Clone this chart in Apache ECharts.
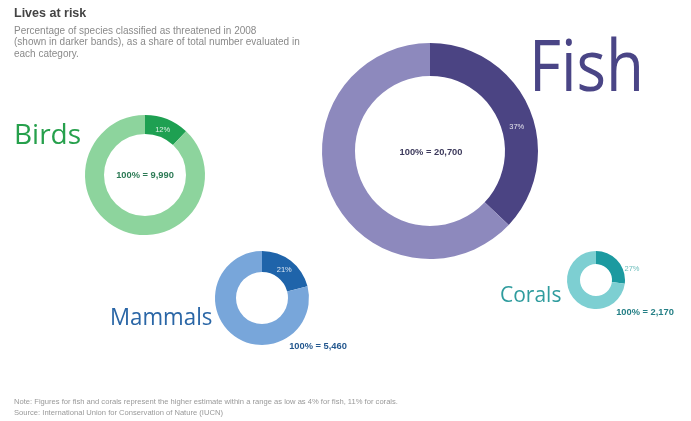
<!DOCTYPE html>
<html><head><meta charset="utf-8">
<script src="https://cdn.jsdelivr.net/npm/echarts@6/dist/echarts.min.js"></script>
<style>html,body{margin:0;padding:0;background:#fff;}#c{width:691px;height:421px;}</style>
</head><body><div id="c"></div>
<script>
const categories = ['Birds', 'Fish', 'Mammals', 'Corals'];
const threatenedPct = [12, 37, 21, 27];
const totalsEvaluated = ['9,990', '20,700', '5,460', '2,170'];

const darkColors = ['#1ea052', '#4b4483', '#1f64aa', '#1c9aa0'];
const lightColors = ['#8dd49d', '#8d89bd', '#78a6da', '#7dcfd2'];
const nameColors = ['#26a04c', '#4a4586', '#2a66a6', '#2f9c9e'];
const centers = [[145, 175], [430, 151], [262, 298], [596, 280]];
const radii = [[41, 60], [75, 108], [26, 47], [16, 29]];
const pctOffsets = [[-2, 5], [0, 13], [-2, 3], [0, 0]];

const series = categories.map((c, i) => ({
  type: 'pie',
  name: c,
  center: centers[i],
  radius: radii[i],
  startAngle: 90,
  clockwise: true,
  silent: true,
  animation: false,
  label: { show: false },
  labelLine: { show: false },
  data: [
    {
      value: threatenedPct[i], name: 'threatened',
      itemStyle: { color: darkColors[i] },
      label: {
        show: i !== 3, position: 'inside', formatter: '{c}%', color: 'rgba(255,255,255,0.85)',
        fontSize: 7.5, fontFamily: 'Liberation Sans', offset: pctOffsets[i]
      }
    },
    { value: 100 - threatenedPct[i], name: 'other', itemStyle: { color: lightColors[i] } }
  ]
}));

const totalPos = [[145, 175], [431, 152], [318, 346], [645, 312]];
const totalColors = ['#2c7a55', '#3d3a5c', '#24588f', '#247f85'];
const nameCfg = [
  { x: 14, y: 122, size: 28, sx: 1 },
  { x: 529, y: 34, size: 72, sx: 0.86 },
  { x: 110, y: 307, size: 23, sx: 0.97 },
  { x: 500, y: 286, size: 21, sx: 1 }
];

const graphics = [];
categories.forEach((c, i) => {
  graphics.push({
    type: 'text', x: nameCfg[i].x, y: nameCfg[i].y, scaleX: nameCfg[i].sx,
    style: { text: c, fill: nameColors[i], font: nameCfg[i].size + 'px "Open Sans", "DejaVu Sans", sans-serif', verticalAlign: 'top' }
  });
  graphics.push({
    type: 'text', x: totalPos[i][0], y: totalPos[i][1],
    style: { text: '100% = ' + totalsEvaluated[i], fill: totalColors[i], font: 'bold 9.3px "Liberation Sans", sans-serif', align: 'center', verticalAlign: 'middle' }
  });
});
graphics.push({
  type: 'text', x: 632, y: 269,
  style: { text: threatenedPct[3] + '%', fill: '#6bbdbb', font: '7.5px "Liberation Sans", sans-serif', align: 'center', verticalAlign: 'middle' }
});
graphics.push({ type: 'text', left: 14, top: 7, style: { text: 'Lives at risk', fill: '#444', font: 'bold 12.5px "Liberation Sans", sans-serif' } });
graphics.push({ type: 'text', left: 14, top: 25, style: {
  text: 'Percentage of species classified as threatened in 2008\n(shown in darker bands), as a share of total number evaluated in\neach category.',
  fill: '#8a8a8a', font: '10px "Liberation Sans", sans-serif', lineHeight: 11.8 } });
graphics.push({ type: 'text', left: 14, top: 398, style: {
  text: 'Note: Figures for fish and corals represent the higher estimate within a range as low as 4% for fish, 11% for corals.',
  fill: '#999', font: '7.6px "Liberation Sans", sans-serif' } });
graphics.push({ type: 'text', left: 14, top: 409, style: {
  text: 'Source: International Union for Conservation of Nature (IUCN)',
  fill: '#999', font: '7.6px "Liberation Sans", sans-serif' } });

const chart = echarts.init(document.getElementById('c'), null, { renderer: 'canvas' });
chart.setOption({ backgroundColor: '#ffffff', animation: false, series: series, graphic: graphics });
</script></body></html>
